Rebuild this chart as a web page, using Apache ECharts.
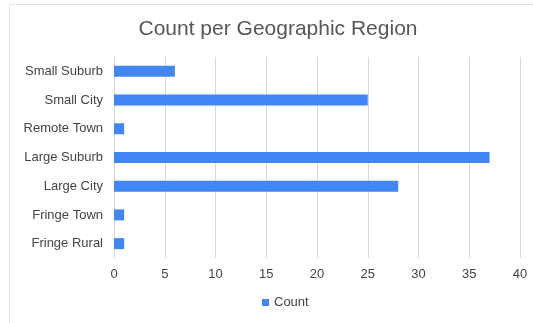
<!DOCTYPE html>
<html>
<head>
<meta charset="utf-8">
<script src="https://cdn.jsdelivr.net/npm/echarts@6/dist/echarts.min.js"></script>
<style>
  html, body { margin: 0; padding: 0; background: #fff; overflow: hidden; }
  .frame {
    position: absolute; left: 9px; top: 4px; width: 600px; height: 400px;
    border-left: 1px solid #e2e2e2; border-top: 1px solid #e2e2e2;
  }
  #chart { position: absolute; left: 0; top: 0; width: 533px; height: 323px; }
</style>
</head>
<body>
<div class="frame"></div>
<div id="chart"></div>
<script>
// categories listed bottom to top (category axis draws first item at the bottom)
var regions = ['Fringe Rural', 'Fringe Town', 'Large City', 'Large Suburb', 'Remote Town', 'Small City', 'Small Suburb']
var counts = [1, 1, 28, 37, 1, 25, 6]

var myChart = echarts.init(document.getElementById('chart'))
var option = {
  animation: false,
  textStyle: { fontFamily: '"Liberation Sans", Arial, sans-serif' },
  title: {
    text: 'Count per Geographic Region',
    left: 273,
    textAlign: 'center',
    top: 14,
    textStyle: { fontSize: 21, fontWeight: 'normal', color: '#575757' }
  },
  legend: {
    data: ['Count'],
    bottom: 9,
    left: 257,
    itemWidth: 7,
    itemHeight: 7,
    itemGap: 3,
    icon: 'rect',
    textStyle: { fontSize: 13, color: '#444' }
  },
  grid: { left: 114, right: 13, top: 57, bottom: 65, containLabel: false },
  xAxis: {
    type: 'value',
    min: 0,
    max: 40,
    interval: 5,
    axisLine: { show: false },
    axisTick: { show: false },
    splitLine: { lineStyle: { color: '#d9d9d9' } },
    axisLabel: { fontSize: 13, color: '#444', margin: 10 }
  },
  yAxis: {
    type: 'category',
    data: regions,
    axisLine: { show: false },
    axisTick: { show: false },
    axisLabel: { fontSize: 13, color: '#444', margin: 11 }
  },
  series: [
    {
      name: 'Count',
      type: 'bar',
      data: counts,
      barWidth: 11,
      itemStyle: { color: '#4285f4' }
    }
  ]
}
myChart.setOption(option)
</script>
</body>
</html>
